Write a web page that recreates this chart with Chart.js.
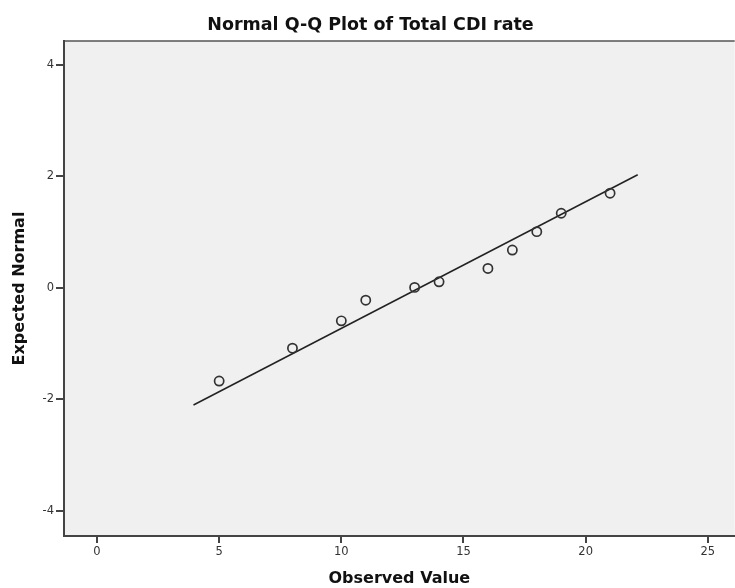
<!DOCTYPE html>
<html>
<head>
<meta charset="utf-8">
<title>Normal Q-Q Plot of Total CDI rate</title>
<script src="https://cdn.jsdelivr.net/npm/chart.js@4"></script>
<style>
    html, body { margin: 0; padding: 0; background: #fff; overflow: hidden; }
    /* a little wider than the window so the plot area runs off the right edge */
    #wrap { width: 741px; height: 588px; position: relative; }
    #wrap canvas { display: block; }
</style>
</head>
<body>
<div id="wrap"><canvas id="qqChart"></canvas></div>
<script>
const observed = [5, 8, 10, 11, 13, 14, 16, 17, 18, 19, 21];
const expected = [-1.67, -1.08, -0.59, -0.22, 0.01, 0.11, 0.35, 0.68, 1.01, 1.34, 1.70];

// Reference line end points
const lineX = [3.95, 22.13];
const lineY = [-2.10, 2.03];

// Tick labels
const xTicks = [0, 5, 10, 15, 20, 25];
const yTicks = [-4, -2, 0, 2, 4];

const axisColor = '#444';
const tickFont = { family: 'DejaVu Sans', size: 11.5 };
const axisTitleFont = { family: 'DejaVu Sans', size: 16, weight: 'bold' };

// Grey plot background with a top frame line
const plotBackground = {
    id: 'plotBackground',
    beforeDraw(chart) {
        const { ctx, chartArea: a } = chart;
        ctx.save();
        ctx.fillStyle = '#f0f0f0';
        ctx.fillRect(a.left, a.top, a.right - a.left, a.bottom - a.top);
        ctx.strokeStyle = '#555';
        ctx.lineWidth = 1.5;
        ctx.beginPath();
        ctx.moveTo(a.left, a.top);
        ctx.lineTo(a.right, a.top);
        ctx.stroke();
        ctx.restore();
    }
};

document.addEventListener('DOMContentLoaded', function() {
    const ctx = document.getElementById('qqChart');

    new Chart(ctx, {
        type: 'scatter',
        data: {
            datasets: [
                {
                    label: 'Observed',
                    data: observed.map((x, i) => ({ x: x, y: expected[i] })),
                    pointStyle: 'circle',
                    pointRadius: 4.6,
                    pointBorderWidth: 1.7,
                    borderColor: '#333',
                    backgroundColor: 'rgba(0,0,0,0)',
                    showLine: false
                },
                {
                    label: 'Line',
                    data: lineX.map((x, i) => ({ x: x, y: lineY[i] })),
                    showLine: true,
                    pointRadius: 0,
                    borderColor: '#222',
                    borderWidth: 1.5
                }
            ]
        },
        options: {
            responsive: true,
            maintainAspectRatio: false,
            animation: false,
            layout: { padding: 0 },
            plugins: {
                legend: { display: false },
                tooltip: { enabled: false },
                title: {
                    display: true,
                    text: 'Normal Q-Q Plot of Total CDI rate',
                    color: '#111',
                    font: { family: 'DejaVu Sans', size: 17.5, weight: 'bold' },
                    padding: { top: 15, bottom: 5 }
                }
            },
            scales: {
                x: {
                    type: 'linear',
                    min: -1.35,
                    max: 26.1,
                    afterFit: scale => {
                        scale.height = 52;
                        scale.paddingLeft = 0;
                        scale.paddingRight = 0;
                    },
                    afterBuildTicks: scale => { scale.ticks = xTicks.map(v => ({ value: v })); },
                    ticks: { color: '#333', font: tickFont, padding: 2, includeBounds: false },
                    grid: { display: true, drawOnChartArea: false, drawTicks: true, tickLength: 7, color: axisColor, lineWidth: 2 },
                    border: { display: true, color: axisColor, width: 2 },
                    title: {
                        display: true,
                        text: 'Observed Value',
                        color: '#111',
                        font: axisTitleFont,
                        padding: { top: 0, bottom: 0 }
                    }
                },
                y: {
                    type: 'linear',
                    min: -4.45,
                    max: 4.43,
                    afterFit: scale => { scale.width = 64; },
                    afterBuildTicks: scale => { scale.ticks = yTicks.map(v => ({ value: v })); },
                    ticks: { color: '#333', font: tickFont, padding: 2, includeBounds: false },
                    grid: { display: true, drawOnChartArea: false, drawTicks: true, tickLength: 8, color: axisColor, lineWidth: 2 },
                    border: { display: true, color: axisColor, width: 2 },
                    title: {
                        display: true,
                        text: 'Expected Normal',
                        color: '#111',
                        font: axisTitleFont,
                        padding: { top: 10, bottom: 0 }
                    }
                }
            }
        },
        plugins: [plotBackground]
    });
});
</script>
</body>
</html>
